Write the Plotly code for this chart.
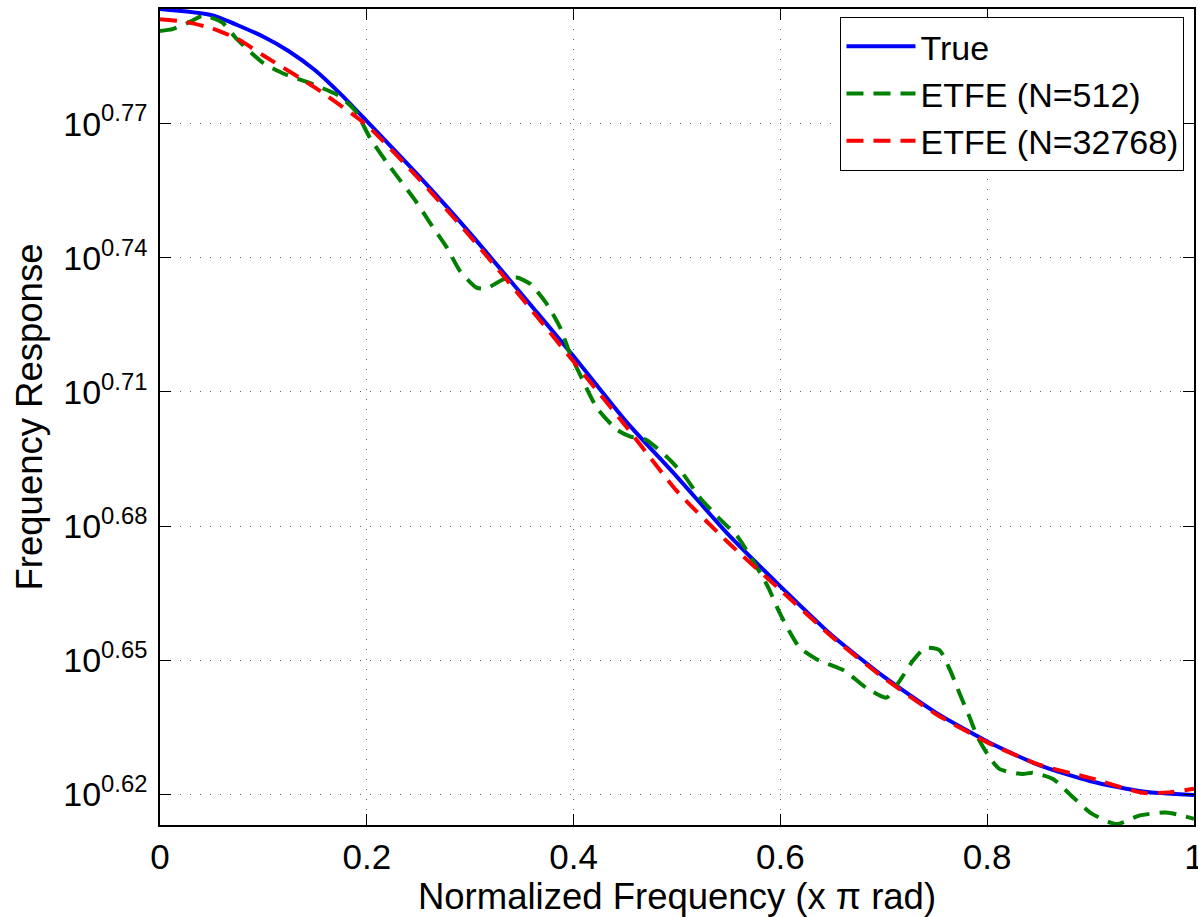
import numpy as np
import plotly.graph_objects as go

# ---- data (x in units of pi rad, y as log10 of magnitude) ----
x_true = [0.0, 0.05, 0.1, 0.125, 0.15, 0.175, 0.2, 0.25, 0.3, 0.35, 0.4, 0.45, 0.5,
          0.55, 0.6, 0.65, 0.7, 0.75, 0.8, 0.85, 0.9, 0.95, 1.0]
log_true = [0.7957, 0.7943, 0.7895, 0.7862, 0.7820, 0.7766, 0.7706, 0.7584, 0.7455, 0.7318,
            0.7180, 0.7036, 0.6910, 0.6780, 0.6665, 0.6555, 0.6463, 0.6383,
            0.6318, 0.6265, 0.6229, 0.6206, 0.6198]

x_n32768 = [0.0, 0.025, 0.05, 0.075, 0.1, 0.15, 0.2, 0.25, 0.3, 0.35, 0.4,
            0.45, 0.5, 0.55, 0.6, 0.65, 0.7, 0.75, 0.8, 0.85, 0.9, 0.95,
            0.975, 1.0]
log_n32768 = [0.7934, 0.7928, 0.7914, 0.7890, 0.7853, 0.7781, 0.7697, 0.7578,
              0.7448, 0.7310, 0.7168, 0.7025, 0.6878, 0.6762, 0.6657, 0.6552,
              0.6460, 0.6380, 0.6316, 0.6266, 0.6236, 0.6203, 0.6204, 0.6212]

x_n512 = [0.0, 0.012, 0.028, 0.042, 0.06, 0.073, 0.085, 0.1, 0.121, 0.144,
          0.173, 0.189, 0.203, 0.2195, 0.247, 0.261, 0.2775, 0.29, 0.3065,
          0.316, 0.332, 0.345, 0.358, 0.374, 0.387, 0.3966, 0.406, 0.4224,
          0.4417, 0.455, 0.47, 0.49, 0.506, 0.522, 0.54, 0.559, 0.574, 0.588,
          0.598, 0.6085, 0.6185, 0.635, 0.662, 0.683, 0.7026, 0.7155, 0.7283,
          0.74, 0.754, 0.764, 0.7735, 0.783, 0.7906, 0.8024, 0.8121, 0.834,
          0.844, 0.8636, 0.883, 0.9007, 0.925, 0.947, 0.973, 1.0]
log_n512 = [0.7908, 0.7912, 0.7927, 0.7942, 0.7927, 0.7893, 0.7866, 0.7836,
            0.7811, 0.7792, 0.7763, 0.7729, 0.7669, 0.7613, 0.7528, 0.7479,
            0.7423, 0.7371, 0.7333, 0.7332, 0.7352, 0.7356, 0.7342, 0.7297,
            0.7244, 0.7185, 0.7140, 0.7065, 0.7016, 0.7000, 0.6993, 0.6955,
            0.6916, 0.6864, 0.6819, 0.6775, 0.6720, 0.6664, 0.6612, 0.6565,
            0.6528, 0.6502, 0.6476, 0.6438, 0.6416, 0.6454, 0.6499, 0.6527,
            0.6522, 0.6478, 0.6424, 0.6372, 0.6328, 0.6282, 0.6256, 0.6245,
            0.6248, 0.6234, 0.6193, 0.6157, 0.6133, 0.6152, 0.6159, 0.6145]

x_ticks = [0, 0.2, 0.4, 0.6, 0.8, 1]
x_ticklabels = ["0", "0.2", "0.4", "0.6", "0.8", "1"]
y_tick_exps = [0.62, 0.65, 0.68, 0.71, 0.74, 0.77]
y_ticklabels = ["10<sup>%.2f</sup>" % e for e in y_tick_exps]

FONT = "Liberation Sans, Arial, Helvetica, sans-serif"

fig = go.Figure()
fig.add_trace(go.Scatter(x=x_true, y=10 ** np.array(log_true), mode="lines",
                         name="True", line=dict(color="#0000FF", width=4, shape="spline", smoothing=0.6)))
fig.add_trace(go.Scatter(x=x_n512, y=10 ** np.array(log_n512), mode="lines",
                         name="ETFE (N=512)",
                         line=dict(color="#008000", width=4, dash="17px,10px", shape="spline", smoothing=0.6)))
fig.add_trace(go.Scatter(x=x_n32768, y=10 ** np.array(log_n32768), mode="lines",
                         name="ETFE (N=32768)",
                         line=dict(color="#FF0000", width=4, dash="17px,10px", shape="spline", smoothing=0.6)))

axis_common = dict(
    showline=True, linecolor="black", linewidth=1.5, mirror="ticks",
    ticks="inside", ticklen=11, tickwidth=1, tickcolor="black",
    showgrid=True, gridcolor="#666666", gridwidth=1, griddash="1px,9px",
    zeroline=False, automargin=False, ticklabeloverflow="allow",
)

fig.update_xaxes(
    type="linear", range=[0, 1], tickvals=x_ticks, ticktext=x_ticklabels,
    tickfont=dict(family=FONT, size=35, color="black"),
    title=dict(text="Normalized Frequency (x \u03c0 rad)",
               font=dict(family=FONT, size=36.5, color="black"), standoff=3),
    **axis_common,
)
fig.update_yaxes(
    type="log", range=[0.6131, 0.7957],
    tickvals=[10 ** e for e in y_tick_exps], ticktext=y_ticklabels,
    tickfont=dict(family=FONT, size=34, color="black"), ticklabelstandoff=4,
    title=dict(text="Frequency Response",
               font=dict(family=FONT, size=36.5, color="black"), standoff=10),
    **axis_common,
)

fig.update_layout(
    width=1198, height=917,
    margin=dict(l=159.5, r=3.5, t=9, b=92, pad=0),
    paper_bgcolor="white", plot_bgcolor="white",
    font=dict(family=FONT, size=34, color="black"),
    legend=dict(
        x=0.9908, y=0.9905, xanchor="right", yanchor="top",
        bgcolor="white", bordercolor="black", borderwidth=1,
        font=dict(family=FONT, size=34, color="black"),
        itemwidth=69, tracegroupgap=0,
    ),
    showlegend=True,
)

# remove the default page margin so the figure fills the window exactly
fig.write_html(
    "out.html",
    config={"displayModeBar": False},
    post_script="document.body.style.margin='0';document.body.style.overflow='hidden';",
)
